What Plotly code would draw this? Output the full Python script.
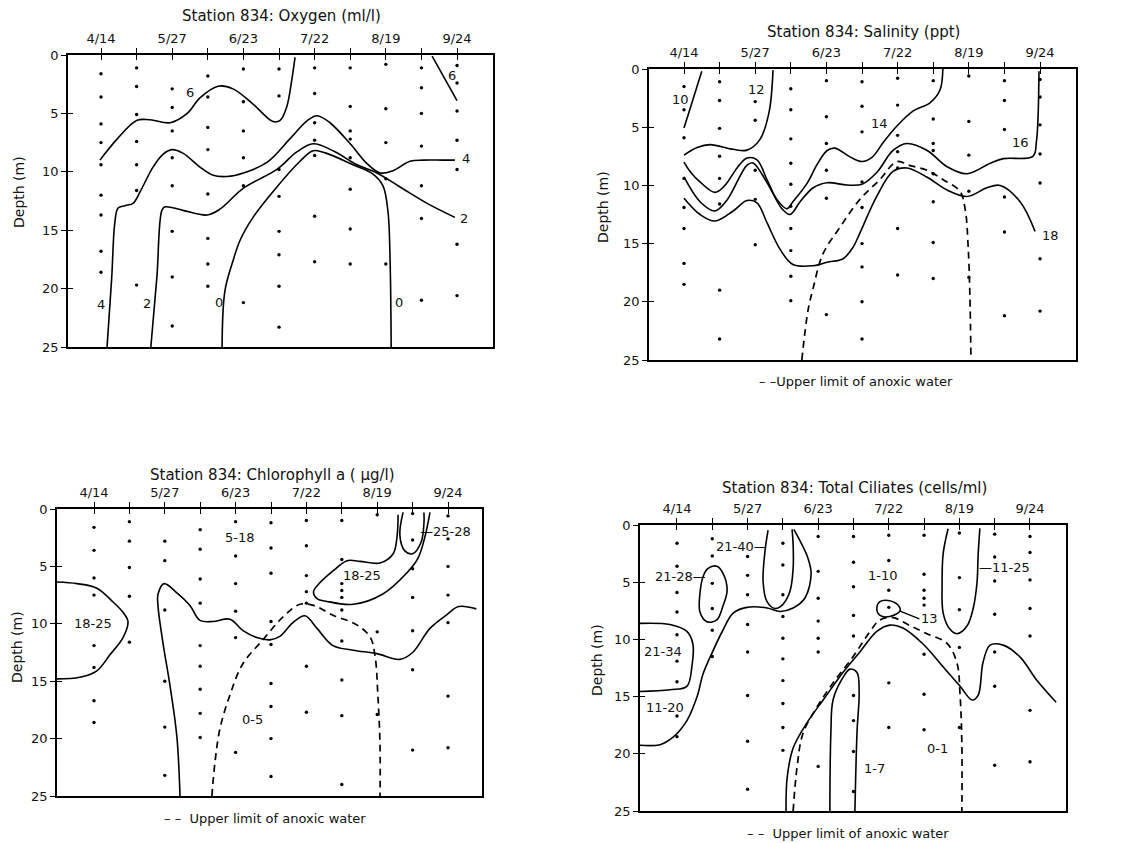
import plotly.graph_objects as go

W, H = 1125, 843
PAGE_MARGIN = 8   # the browser's default body margin shifts the figure by this many pixels

# ---------------- shared axis data ----------------
DATES = ["4/14", "5/27", "6/23", "7/22", "8/19", "9/24"]
STATIONS = list(range(11))            # cruise stations, every second one is labelled
DEPTH_TICKS = [0, 5, 10, 15, 20, 25]

# ---------------- Oxygen (ml/l) : (station index, depth m) ----------------
OXY_6_LEFT = [(-0.03, 9.0), (0.45, 7.2), (1.0, 5.6), (1.38, 5.55), (1.94, 5.8), (2.42, 5.0), (2.78, 3.67),
              (3.29, 2.67), (3.71, 2.9), (4.27, 4.2), (4.83, 5.7), (5.03, 5.6), (5.22, 4.4), (5.36, 2.1), (5.45, 0.2)]
OXY_6_RIGHT = [(9.3, 0.1), (10.0, 3.9)]
OXY_4 = [(0.17, 25), (0.3, 19.1), (0.39, 14.3), (0.48, 13.1), (0.67, 12.9), (0.9, 12.7), (1.1, 11.7), (1.46, 9.6),
         (1.74, 8.5), (1.99, 8.1), (2.3, 8.4), (2.78, 9.6), (3.15, 10.3), (3.54, 10.4), (4.0, 10.1), (4.66, 9.2),
         (5.3, 7.2), (5.8, 5.6), (6.07, 5.2), (6.43, 5.8), (7.0, 7.6), (7.47, 9.3), (7.84, 10.1), (8.2, 9.9),
         (8.68, 9.1), (9.05, 9.0), (9.6, 9.0), (9.94, 9.0)]
OXY_2 = [(1.4, 25), (1.57, 19.0), (1.71, 13.3), (1.8, 13.0), (2.3, 13.3), (2.98, 13.7), (3.34, 13.2), (4.0, 11.4),
         (4.94, 9.8), (5.5, 8.3), (5.96, 7.6), (6.52, 8.2), (7.19, 9.4), (7.75, 10.1), (8.4, 11.3), (9.16, 12.7),
         (9.94, 13.9)]
OXY_0 = [(3.4, 25), (3.48, 20.2), (3.71, 17.6), (3.9, 15.9), (4.27, 13.9), (4.94, 11.3), (5.59, 9.1), (5.96, 8.2),
         (6.32, 8.4), (7.08, 9.4), (7.64, 10.2), (7.92, 11.2), (8.06, 13.4), (8.12, 17.7), (8.15, 25)]
OXY_DOTS = [[1.6, 3.6, 5.9, 7.5, 9.4, 12.0, 13.7, 16.8, 18.6], [1.1, 2.7, 5.1, 7.4, 9.4, 11.6, 19.7],
            [2.9, 4.5, 6.5, 8.8, 11.2, 15.1, 19.0, 23.2], [1.8, 3.6, 6.2, 8.1, 11.9, 15.7, 17.9, 19.8],
            [1.2, 4.0, 6.5, 8.8, 11.2, 21.2], [1.2, 3.5, 9.8, 12.1, 15.1, 17.1, 19.8, 23.3],
            [1.1, 3.3, 5.8, 7.3, 8.6, 13.8, 17.7], [1.1, 4.4, 6.5, 7.2, 8.8, 11.5, 14.9, 17.9],
            [0.8, 4.6, 7.5, 10.6, 17.9], [1.1, 2.8, 5.0, 7.8, 11.2, 14.0, 21.0],
            [0.9, 2.4, 4.8, 7.3, 9.8, 16.2, 20.6]]
OXY_LABELS = [("6", 2.5, 3.2), ("6", 9.86, 1.75), ("4", 10.25, 8.9), ("2", 10.2, 14.0),
              ("4", 0.0, 21.4), ("2", 1.29, 21.3), ("0", 3.31, 21.2), ("0", 8.36, 21.2)]

# ---------------- Salinity (ppt) ----------------
SAL_10 = [(0.5, 0.2), (0.0, 5.06)]
SAL_12 = [(2.5, 0.1), (2.39, 3.7), (2.13, 6.07), (1.77, 6.97), (1.38, 6.9), (0.73, 6.5), (0.37, 6.75), (0.0, 7.4)]
SAL_14 = [(0, 8.0), (0.17, 8.8), (0.45, 9.7), (0.87, 10.6), (1.15, 10.0), (1.49, 8.5), (1.77, 7.65), (2.05, 7.8),
          (2.33, 9.5), (2.61, 11.2), (2.89, 12.0), (3.06, 11.4), (3.46, 9.8), (3.74, 8.2), (4.02, 7.0), (4.24, 6.8),
          (4.66, 7.55), (5.0, 7.95), (5.28, 7.6), (5.6, 6.3), (5.98, 4.9), (6.44, 3.6), (6.91, 2.9), (7.19, 1.8),
          (7.27, 0.0)]
SAL_16 = [(0, 9.27), (0.45, 11.4), (0.87, 12.2), (1.2, 11.3), (1.77, 8.26), (1.94, 8.07), (2.33, 9.75), (2.75, 12.0),
          (2.98, 12.5), (3.26, 11.4), (3.63, 10.2), (4.02, 9.77), (4.58, 9.97), (5.0, 9.9), (5.42, 8.87), (5.87, 7.0),
          (6.26, 6.4), (6.83, 7.0), (7.39, 8.4), (7.95, 9.0), (8.6, 8.1), (8.97, 7.7), (9.8, 7.5), (9.9, 6.2),
          (9.97, 0.2)]
SAL_18 = [(0, 11.1), (0.45, 12.5), (0.87, 13.06), (1.38, 12.2), (1.77, 11.3), (2.05, 11.5), (2.33, 13.2), (2.7, 15.5),
          (3.06, 16.8), (3.63, 16.9), (4.02, 16.6), (4.47, 16.3), (4.75, 15.3), (4.94, 14.1), (5.42, 10.9),
          (5.87, 8.8), (6.26, 8.5), (6.83, 9.3), (7.39, 10.4), (7.95, 10.95), (8.51, 10.2), (8.88, 10.0),
          (9.44, 11.4), (9.86, 13.95)]
SAL_ANOXIC = [(3.31, 25), (3.48, 20.8), (3.63, 18.8), (3.9, 15.9), (4.38, 13.6), (4.94, 11.2), (5.5, 9.5),
              (5.98, 7.96), (6.35, 8.3), (6.83, 8.7), (7.27, 9.5), (7.75, 10.5), (7.9, 12.1), (7.98, 15.2),
              (8.03, 19.5), (8.06, 25)]
SAL_DOTS = [[1.5, 3.5, 5.9, 9.4, 11.9, 13.7, 16.7, 18.5], [1.1, 2.7, 5.1, 7.5, 9.4, 11.6, 19.0, 23.2],
            [2.8, 4.4, 8.7, 11.2, 15.1], [1.7, 3.5, 6.0, 8.1, 9.9, 11.8, 13.7, 15.6, 17.8, 19.9],
            [1.0, 4.1, 6.4, 8.7, 11.1, 21.1], [1.1, 3.2, 5.4, 9.7, 11.9, 15.0, 17.0, 20.0, 23.2],
            [0.8, 3.1, 5.7, 7.1, 8.5, 13.7, 17.7], [1.0, 4.3, 6.4, 7.0, 9.0, 11.4, 14.9, 18.0],
            [0.6, 4.5, 7.4, 10.5, 17.9], [1.0, 2.7, 5.2, 11.0, 14.0, 21.2],
            [0.9, 2.4, 4.8, 7.3, 9.8, 16.3, 20.8]]
SAL_LABELS = [("10", -0.1, 2.6), ("12", 2.05, 1.8), ("14", 5.48, 4.65), ("16", 9.44, 6.3), ("18", 10.3, 14.3)]

# ---------------- Chlorophyll a (ug/l) ----------------
CHL_LEFT_LOOP = [(-1.05, 6.36), (-0.48, 6.5), (0.08, 6.9), (0.54, 8.1), (0.82, 9.0), (0.96, 9.8), (0.82, 11.2),
                 (0.45, 12.7), (0.08, 14.1), (-0.4, 14.66), (-1.05, 14.8)]
CHL_BOUNDARY = [(2.43, 25), (2.34, 19.8), (2.15, 15.45), (1.95, 11.7), (1.81, 8.5), (1.81, 7.4), (1.98, 6.5),
                (2.34, 7.3), (2.71, 8.4), (2.99, 9.7), (3.36, 9.8), (3.84, 9.6), (4.21, 10.6), (4.6, 11.2),
                (4.97, 11.4), (5.25, 11.1), (5.62, 9.9), (5.96, 9.3), (6.3, 10.4), (6.75, 11.9), (7.32, 12.3),
                (7.99, 12.6), (8.64, 13.1), (9.0, 12.5), (9.49, 10.4), (9.97, 9.2), (10.3, 8.5), (10.8, 8.7)]
CHL_18_25 = [(9.49, 0.3), (9.35, 2.4), (9.15, 4.3), (8.84, 5.55), (8.16, 7.4), (7.32, 8.3), (6.58, 8.05),
             (6.3, 7.8), (6.2, 7.2), (6.3, 6.7), (6.75, 5.4), (7.15, 4.5), (7.51, 4.56), (8.08, 4.7), (8.45, 3.9),
             (8.56, 2.4), (8.59, 0.5)]
CHL_25_28 = [(8.73, 0.3), (8.64, 2.3), (8.78, 3.65), (9.0, 3.9), (9.24, 2.9), (9.32, 1.24), (9.32, 0.3)]
CHL_ANOXIC = [(3.33, 25), (3.42, 22.0), (3.56, 19.1), (3.84, 16.2), (4.2, 13.5), (4.77, 11.4), (5.34, 9.4),
              (5.82, 8.3), (6.2, 8.4), (6.75, 9.25), (7.4, 10.05), (7.8, 11.15), (7.94, 12.85), (8.02, 16.3),
              (8.08, 20.7), (8.08, 25)]
CHL_DOTS = [[1.6, 3.6, 6.0, 7.5, 11.9, 13.8, 16.7, 18.6], [1.1, 2.8, 5.1, 7.6, 11.6],
            [2.8, 4.5, 8.8, 15.0, 19.0, 23.2], [1.8, 3.5, 6.1, 8.2, 11.9, 13.7, 15.7, 17.8, 19.9],
            [1.1, 4.1, 6.5, 8.9, 11.2, 21.2], [1.2, 3.4, 5.6, 9.8, 11.8, 15.2, 17.2, 20.0, 23.3],
            [1.0, 3.2, 5.8, 7.2, 8.2, 13.7, 17.7], [1.0, 4.4, 6.5, 7.1, 7.7, 8.8, 11.5, 14.9, 18.0, 24.0],
            [0.5, 10.7, 17.9], [0.4, 2.7, 5.2, 7.7, 10.6, 14.0, 21.0], [0.6, 2.6, 5.0, 7.5, 9.9, 16.3, 20.8]]
CHL_LABELS = [("18-25", -0.03, 10.0), ("5-18", 4.12, 2.5), ("18-25", 7.57, 5.8), ("—25-28", 9.94, 1.95),
              ("0-5", 4.49, 18.3)]

# ---------------- Total ciliates (cells/ml) ----------------
CIL_21_28 = [(0.74, 4.5), (0.88, 3.8), (1.13, 3.6), (1.3, 4.2), (1.42, 5.7), (1.3, 7.1), (1.13, 8.3), (0.85, 8.45),
             (0.65, 7.6), (0.65, 6.0), (0.74, 4.5)]
CIL_21_34 = [(-1.05, 8.6), (-0.2, 8.7), (0.28, 9.3), (0.45, 10.4), (0.42, 12.4), (0.28, 14.1), (-0.2, 14.4),
             (-1.05, 14.55)]
CIL_BOUNDARY = [(-1.05, 19.25), (-0.48, 19.2), (-0.11, 18.55), (0.28, 17.1), (0.57, 15.0), (0.74, 13.0),
                (1.02, 11.0), (1.3, 9.2), (1.59, 7.7), (1.98, 7.2), (2.55, 7.25), (2.92, 7.56), (3.29, 7.26),
                (3.63, 6.36), (3.8, 4.26), (3.71, 2.9), (3.49, 1.41), (3.31, 0.38)]
CIL_21_40 = [(2.58, 0.45), (2.49, 2.37), (2.44, 5.0), (2.55, 6.7), (2.78, 7.3), (3.0, 6.94), (3.2, 5.8),
             (3.29, 3.8), (3.29, 1.7), (3.26, 0.38)]
CIL_HUMP = [(3.09, 25), (3.12, 22.1), (3.29, 19.5), (3.68, 17.3), (4.14, 15.3), (4.7, 12.9), (5.18, 11.1),
            (5.66, 9.3), (6.03, 8.75), (6.4, 9.0), (6.97, 10.4), (7.54, 12.4), (8.02, 14.1), (8.36, 15.3),
            (8.53, 14.9), (8.67, 12.0), (8.87, 10.5), (9.24, 10.5), (9.72, 11.55), (10.2, 13.6), (10.74, 15.5)]
CIL_1_7 = [(4.33, 25), (4.36, 18.1), (4.42, 15.3), (4.67, 13.5), (4.9, 12.6), (5.1, 12.9), (5.16, 14.6),
           (5.1, 18.1), (5.04, 25)]
CIL_13 = [(5.66, 7.3), (5.75, 6.7), (5.98, 6.6), (6.26, 7.0), (6.32, 7.5), (6.03, 8.0), (5.75, 7.9), (5.66, 7.3)]
CIL_11_25 = [(7.68, 0.33), (7.54, 2.5), (7.51, 5.1), (7.54, 7.7), (7.73, 9.1), (7.93, 9.5), (8.22, 8.8),
             (8.39, 7.3), (8.5, 5.0), (8.53, 2.7), (8.58, 0.3)]
CIL_ANOXIC = [(3.29, 25), (3.4, 21.2), (3.57, 18.2), (3.97, 15.9), (4.42, 13.8), (4.99, 11.5), (5.47, 9.3),
              (5.75, 8.3), (6.12, 8.1), (6.6, 8.8), (7.08, 9.5), (7.65, 10.35), (7.93, 12.05), (8.02, 14.9),
              (8.07, 19.3), (8.07, 25)]
CIL_DOTS = [[1.6, 3.6, 5.9, 7.6, 9.6, 11.9, 13.7, 16.7, 18.5], [1.2, 2.7, 5.1, 7.3, 9.2, 11.5],
            [2.75, 4.4, 6.1, 8.7, 11.1, 14.9, 18.9, 23.1], [1.6, 3.5, 6.1, 8.0, 9.9, 11.7, 13.6, 15.6, 17.7, 19.7],
            [1.0, 4.05, 6.4, 8.4, 9.9, 11.1, 21.1], [1.0, 3.25, 5.4, 7.9, 9.7, 14.9, 17.1, 19.8, 23.3],
            [0.9, 3.1, 5.7, 7.2, 13.8, 17.7], [0.9, 4.3, 5.7, 6.4, 7.0, 11.3, 14.8, 17.9],
            [0.7, 4.6, 7.4, 10.7, 17.7], [0.8, 2.8, 4.9, 7.8, 11.1, 14.1, 21.0],
            [1.0, 2.4, 4.8, 7.3, 9.7, 16.2, 20.7]]
CIL_LABELS = [("21-40—", 1.84, 1.84), ("21-28—", 0.11, 4.5), ("21-34", -0.4, 11.1), ("11-20", -0.34, 15.96),
              ("1-10", 5.84, 4.4), ("—11-25", 9.29, 3.7), ("1-7", 5.6, 21.25), ("0-1", 7.38, 19.5)]

FONT = "DejaVu Sans"
INK = "#111111"

PANELS = [
    dict(title="Station 834: Oxygen (ml/l)", px=(68, 493), py=(55, 347), xr=(-0.927, 11.01),
         title_xy=(281, 16), depth_xy=(19, 192),
         lines=[OXY_6_LEFT, OXY_6_RIGHT, OXY_4, OXY_2, OXY_0], dashed=[], dots=OXY_DOTS, labels=OXY_LABELS,
         legend=None),
    dict(title="Station 834: Salinity (ppt)", px=(649, 1076), py=(69, 360), xr=(-0.983, 11.01),
         title_xy=(863, 32), depth_xy=(603, 207),
         lines=[SAL_10, SAL_12, SAL_14, SAL_16, SAL_18], dashed=[SAL_ANOXIC], dots=SAL_DOTS, labels=SAL_LABELS,
         legend=(856, 381, "– –Upper limit of anoxic water")),
    dict(title="Station 834: Chlorophyll a ( µg/l)", px=(57, 482), py=(509, 796), xr=(-1.045, 10.96),
         title_xy=(272, 475), depth_xy=(17, 647),
         lines=[CHL_LEFT_LOOP, CHL_BOUNDARY, CHL_18_25, CHL_25_28], dashed=[CHL_ANOXIC], dots=CHL_DOTS,
         labels=CHL_LABELS, legend=(265, 818, "– –  Upper limit of anoxic water")),
    dict(title="Station 834: Total Ciliates (cells/ml)", px=(640, 1066), py=(525, 811), xr=(-1.048, 11.02),
         title_xy=(854, 488), depth_xy=(597, 660),
         lines=[CIL_21_28, CIL_21_34, CIL_BOUNDARY, CIL_21_40, CIL_HUMP, CIL_1_7, CIL_13, CIL_11_25],
         dashed=[CIL_ANOXIC], dots=CIL_DOTS, labels=CIL_LABELS,
         legend=(848, 833, "– –  Upper limit of anoxic water")),
]

fig = go.Figure()
layout = dict(width=W, height=H, margin=dict(l=0, r=0, t=0, b=0, autoexpand=False), paper_bgcolor="white",
              plot_bgcolor="rgba(0,0,0,0)", showlegend=False, annotations=[])

ticktext = [DATES[i // 2] if i % 2 == 0 else "" for i in STATIONS]


def px2paper(x, y):
    return (x - PAGE_MARGIN) / W, 1 - (y - PAGE_MARGIN) / H


def note(text, x, y, xref="paper", yref="paper", size=13, **kw):
    return dict(text=text, x=x, y=y, xref=xref, yref=yref, showarrow=False, xanchor="center",
                yanchor="middle", font=dict(family=FONT, size=size, color=INK), **kw)


for k, p in enumerate(PANELS):
    n = k + 1
    m = n + 4
    sx = "" if n == 1 else str(n)
    xa, ya = f"x{sx}", f"y{sx}"
    x0, y1 = px2paper(p["px"][0], p["py"][1])
    x1, y0 = px2paper(p["px"][1], p["py"][0])
    xdom, ydom = [x0, x1], [y1, y0]
    common = dict(showgrid=False, zeroline=False, fixedrange=True, automargin=False)
    layout[f"xaxis{sx}"] = dict(domain=xdom, range=list(p["xr"]), anchor=ya, side="top", showline=True,
                                mirror=True, linecolor="black", linewidth=1.7, ticks="outside", ticklen=5,
                                tickwidth=1.4, tickcolor="black", tickvals=STATIONS, ticktext=ticktext,
                                tickfont=dict(family=FONT, size=13, color=INK), **common)
    layout[f"yaxis{sx}"] = dict(domain=ydom, range=[25, 0], anchor=xa, side="left", showline=True, mirror=True,
                                linecolor="black", linewidth=1.7, ticks="outside", ticklen=5, tickwidth=1.4,
                                tickcolor="black", tickvals=DEPTH_TICKS,
                                tickfont=dict(family=FONT, size=13, color=INK), **common)
    # inner half of the crossing tick marks
    layout[f"xaxis{m}"] = dict(overlaying=xa, anchor=ya, side="top", range=list(p["xr"]), ticks="inside",
                               ticklen=5, tickwidth=1.4, tickcolor="black", tickvals=STATIONS,
                               showticklabels=False, showline=False, **common)
    layout[f"yaxis{m}"] = dict(overlaying=ya, anchor=xa, side="left", range=[25, 0], ticks="inside",
                               ticklen=5, tickwidth=1.4, tickcolor="black", tickvals=DEPTH_TICKS,
                               showticklabels=False, showline=False, **common)
    fig.add_trace(go.Scatter(x=[None], y=[None], mode="markers", xaxis=f"x{m}", yaxis=f"y{m}",
                             hoverinfo="skip"))

    # sampling points
    dx, dy = [], []
    for s, depths in zip(STATIONS, p["dots"]):
        dx += [s] * len(depths)
        dy += depths
    fig.add_trace(go.Scatter(x=dx, y=dy, mode="markers", marker=dict(size=3.4, color="black"),
                             xaxis=xa, yaxis=ya, hoverinfo="skip"))
    # isolines
    for line in p["lines"]:
        fig.add_trace(go.Scatter(x=[a for a, _ in line], y=[b for _, b in line], mode="lines",
                                 line=dict(color="black", width=1.6, shape="spline", smoothing=1.0),
                                 xaxis=xa, yaxis=ya, hoverinfo="skip"))
    for line in p["dashed"]:
        fig.add_trace(go.Scatter(x=[a for a, _ in line], y=[b for _, b in line], mode="lines",
                                 line=dict(color="black", width=1.7, shape="spline", smoothing=1.0,
                                           dash="7px,5px"),
                                 xaxis=xa, yaxis=ya, hoverinfo="skip"))
    for txt, lx, ly in p["labels"]:
        layout["annotations"].append(note(txt, lx, ly, xref=xa, yref=ya))
    # title, y-title, legend note
    layout["annotations"].append(note(p["title"], *px2paper(*p["title_xy"]), size=15))
    layout["annotations"].append(note("Depth (m)", *px2paper(*p["depth_xy"]), size=14, textangle=-90))
    if p["legend"]:
        layout["annotations"].append(note(p["legend"][2], *px2paper(p["legend"][0], p["legend"][1])))

# the "13" label of the ciliate panel with its leader line
layout["annotations"].append(dict(text="13", x=6.3, y=7.5, xref="x4", yref="y4", showarrow=True,
                                  arrowhead=0, arrowwidth=1.3, arrowcolor="black", ax=20, ay=8,
                                  xanchor="left", font=dict(family=FONT, size=13, color=INK)))

fig.update_layout(**layout)
fig.write_html("out.html")
